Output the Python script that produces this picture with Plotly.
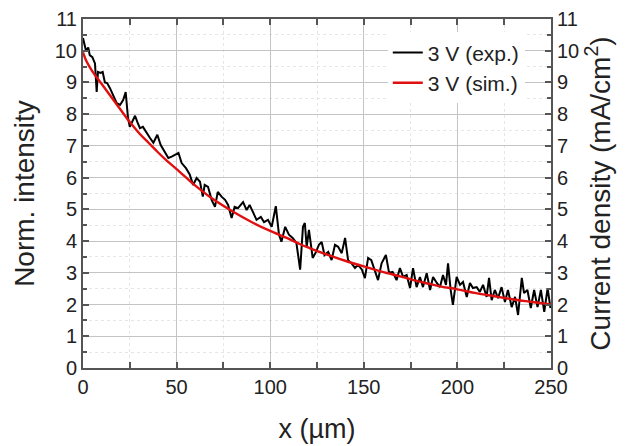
import plotly.graph_objects as go

# Experimental profile (3 V), x in µm, normalised intensity
exp_x = [0, 1.6, 2.8, 3.6, 5, 6.4, 7.3, 8, 9.4, 10.5, 11.7, 12.9, 14.4, 16, 18, 19.8, 21.5, 22.8, 24, 25,
         26.5, 27.8, 29, 30.4, 32, 34, 35.8, 37.6, 39.7, 41.5, 43.8, 45.6, 47.4, 51, 52.7, 55, 57,
         58.8, 60.7, 62.5, 64, 65, 66.8, 68.7, 70.5, 72, 74, 75.9, 77.5, 79.4, 81, 82.8, 85.5, 87.4,
         89, 90.8, 92.7, 95, 96.7, 98.8, 100.8, 103, 104.7, 106, 108, 110, 112, 114, 116, 117.5,
         118.5, 119.5, 120.7, 122.7, 124.5, 126, 127.5, 129, 131, 132.8, 134.6, 136.3, 138.2, 140,
         141.6, 143.5, 145.3, 147, 149, 150.6, 152.3, 154, 156, 157.6, 159.5, 161.8, 163.5, 165.4,
         167.5, 169.3, 171, 172.9, 174.7, 176.3, 178.2, 180,
         181.6, 183.6, 185.4, 187, 189, 190.7, 192.3, 193.9, 195, 196.4, 197.6, 199.6, 201.4, 203,
         205, 206.7, 208.3, 210.3, 212, 213.7, 215.6, 216.9, 218.3, 220, 221.7, 223.6, 225.4, 227,
         229, 230.8, 232.4, 234.4, 235.6, 237.4, 239.2, 241, 242.8, 244.6, 246.4, 248.2, 249.7]
exp_y = [10.4, 10.0, 10.1, 9.86, 9.8, 9.6, 8.7, 9.33, 9.3, 9.33, 9.0, 8.98, 8.82, 8.6, 8.35, 8.29, 8.45, 8.7, 7.9, 7.6,
         7.82, 7.95, 7.76, 7.56, 7.6, 7.4, 7.25, 7.1, 7.35, 7.03, 6.78, 6.62, 6.66, 6.78, 6.46, 6.3, 6.1,
         5.77, 5.99, 5.87, 5.4, 5.77, 5.71, 5.3, 5.08, 5.55, 5.4, 5.3, 5.14, 4.73, 5.08, 5.04, 5.23, 4.98,
         5.14, 4.89, 4.67, 4.76, 4.6, 4.67, 4.45, 5.1, 4.2, 3.98, 4.45, 4.2, 4.1, 3.94, 3.1, 4.45,
         4.57, 3.82, 4.35, 3.47, 3.66, 3.88, 3.97, 3.56, 3.66, 3.4, 3.88, 3.82, 3.62, 4.1,
         3.4, 3.3, 3.15, 3.25, 3.1, 2.83, 3.47, 3.4, 3.03, 2.77, 3.3, 3.56, 3.0, 3.03,
         2.77, 3.15, 2.87, 2.93, 2.52, 3.15, 2.55, 2.87,
         2.55, 2.99, 2.46, 2.87, 2.68, 2.55, 2.93, 2.62, 3.3, 2.46, 1.99, 2.87, 2.62, 2.71,
         2.24, 2.68, 2.52, 2.55, 2.4, 2.62, 2.24, 2.84, 2.14, 2.46, 2.2, 2.55, 2.08, 2.46,
         1.92, 2.24, 1.67, 2.84, 2.36, 2.46, 1.89, 2.46, 1.92, 2.46, 1.77, 2.52, 1.89]

# Simulated profile (3 V)
sim_x = [0, 2, 5, 10, 15, 20, 25, 30, 35, 40, 45, 50, 57, 60, 70, 80, 90, 100, 110, 116, 121, 130,
         140, 150, 160, 170, 180, 185, 190, 200, 210, 220, 230, 240, 250]
sim_y = [9.95, 9.65, 9.35, 8.95, 8.55, 8.15, 7.75, 7.4, 7.1, 6.8, 6.52, 6.27, 5.9, 5.75, 5.3, 4.93, 4.6,
         4.32, 4.07, 3.9, 3.78, 3.58, 3.38, 3.2, 3.03, 2.88, 2.72, 2.65, 2.58, 2.48, 2.36, 2.26, 2.16,
         2.08, 2.0]

x_ticks = [0, 50, 100, 150, 200, 250]
y_ticks = list(range(0, 12))

FONT = "Arial, Liberation Sans, sans-serif"
AX = "#555555"

fig = go.Figure()
fig.add_trace(go.Scatter(x=exp_x, y=exp_y, mode="lines", name="3 V (exp.)",
                         line=dict(color="black", width=2)))
fig.add_trace(go.Scatter(x=sim_x, y=sim_y, mode="lines", name="3 V (sim.)",
                         line=dict(color="#e01010", width=2.4, shape="spline")))
# invisible trace to activate the right-hand axis
fig.add_trace(go.Scatter(x=sim_x, y=sim_y, mode="lines", yaxis="y2", showlegend=False,
                         hoverinfo="skip", line=dict(color="rgba(0,0,0,0)", width=0)))

fig.update_layout(
    width=638, height=446,
    paper_bgcolor="white", plot_bgcolor="white",
    margin=dict(l=83, r=87, t=19, b=78),
    font=dict(family=FONT, color="#222222"),
    showlegend=True,
    legend=dict(x=0.944, xanchor="right", y=0.962, yanchor="top",
                bgcolor="white", borderwidth=0, font=dict(size=21, family=FONT),
                tracegroupgap=0),
    xaxis=dict(range=[0, 250], tickvals=x_ticks, ticks="inside", ticklen=6, tickwidth=1.5,
               tickcolor=AX, showline=True, linecolor=AX, linewidth=2, mirror="allticks",
               showgrid=True, gridcolor="#c4c4c4", gridwidth=1, zeroline=False,
               tickfont=dict(size=20, family=FONT), automargin=False,
               minor=dict(dtick=25, ticks="inside", ticklen=4, tickcolor=AX,
                          showgrid=True, gridcolor="#e6e6e6", griddash="dot"),
               title=dict(text="x (\u00b5m)", font=dict(size=27, family=FONT), standoff=22)),
    yaxis=dict(range=[0, 11], tickvals=y_ticks, ticks="inside", ticklen=6, tickwidth=1.5,
               tickcolor=AX, showline=True, linecolor=AX, linewidth=2, mirror=False,
               showgrid=True, gridcolor="#c4c4c4", gridwidth=1, zeroline=False,
               tickfont=dict(size=20, family=FONT), automargin=False,
               minor=dict(dtick=0.5, ticks="inside", ticklen=4, tickcolor=AX,
                          showgrid=True, gridcolor="#e6e6e6", griddash="dot"),
               title=dict(text="Norm. intensity", font=dict(size=28, family=FONT), standoff=12)),
    yaxis2=dict(range=[0, 11], tickvals=y_ticks, overlaying="y", side="right", ticks="inside",
                ticklen=6, tickwidth=1.5, tickcolor=AX, showline=True, linecolor=AX, linewidth=2,
                showgrid=False, zeroline=False, tickfont=dict(size=20, family=FONT), automargin=False,
                minor=dict(dtick=0.5, ticks="inside", ticklen=4, tickcolor=AX),
                title=dict(text="Current density (mA/cm<sup>2</sup>)",
                           font=dict(size=28, family=FONT), standoff=12)),
)

fig.write_html("out.html", config={"displayModeBar": False},
               post_script="document.body.style.margin='0';")
